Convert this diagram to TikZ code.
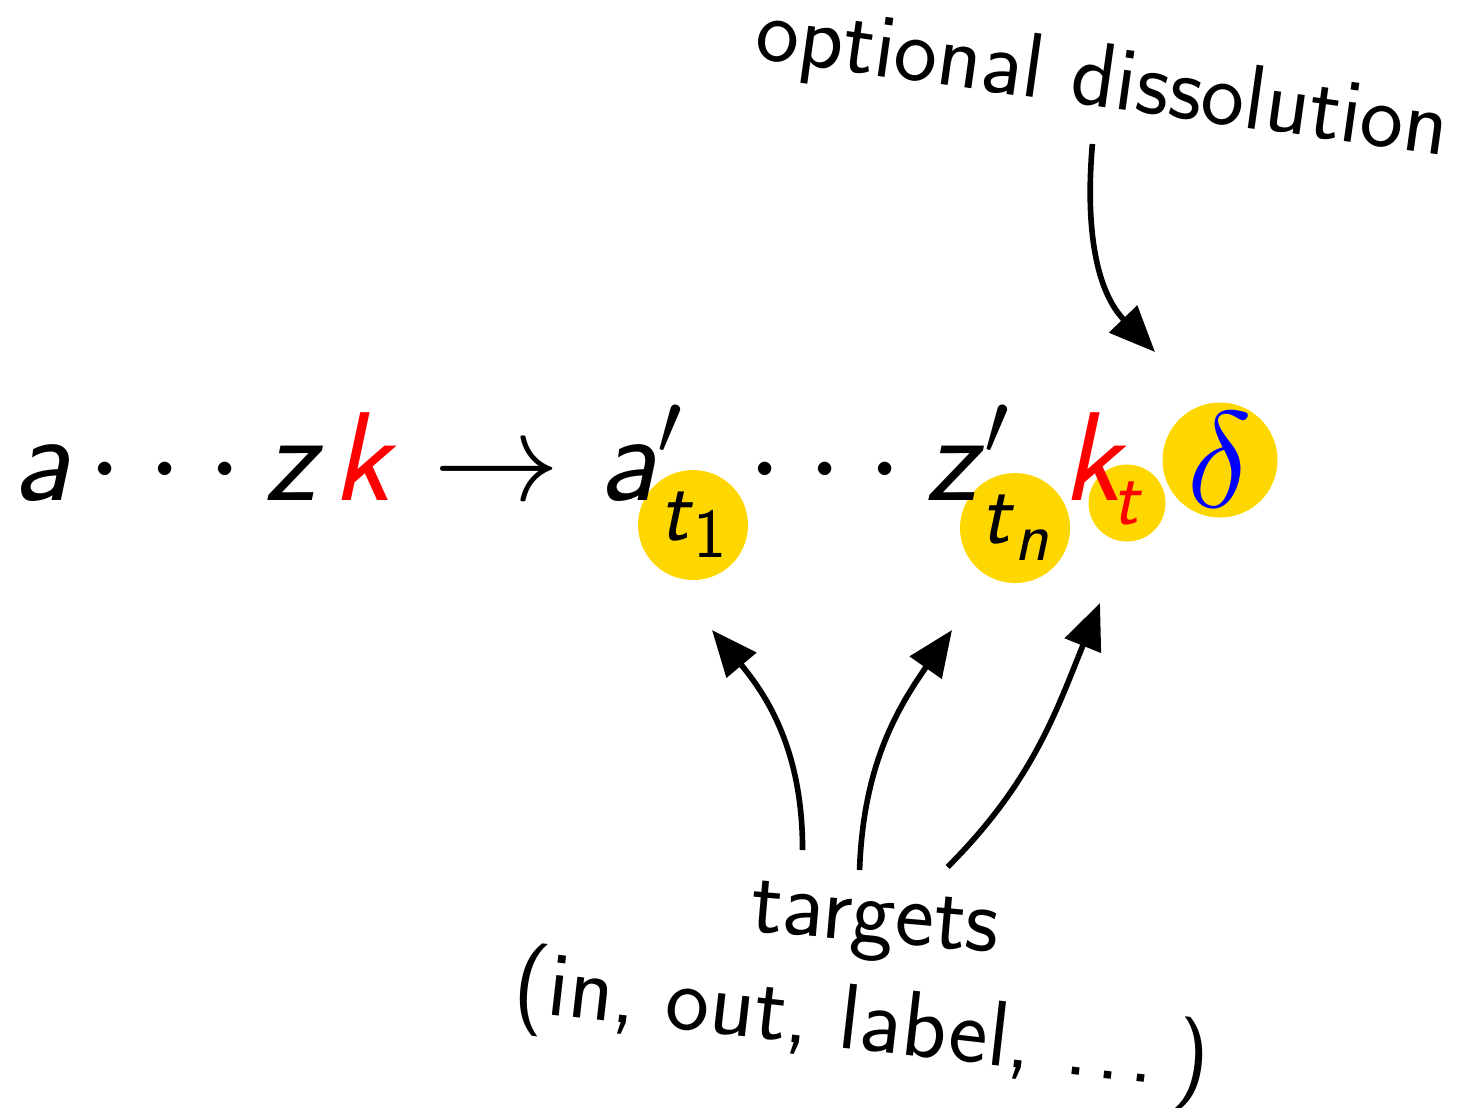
\RequirePackage{fix-cm}
\documentclass[tikz,border=0pt]{standalone}
\usepackage{amsmath}
\usetikzlibrary{arrows.meta}

\definecolor{hlgold}{RGB}{255,215,0}
\newcommand{\sv}[1]{\textsf{\textit{#1}}}
\newcommand{\dotrow}{\makebox[0.6cm]{$\cdot$}\makebox[0.6cm]{$\cdot$}\makebox[0.6cm]{$\cdot$}}
\newcommand{\lowdots}{\makebox[0.33cm]{.}\makebox[0.33cm]{.}\makebox[0.33cm]{.}}
\newcommand{\subsz}[1]{\raisebox{-0.17cm}{\fontsize{20}{24}\selectfont\textsf{#1}}}

\begin{document}
\begin{tikzpicture}[
    x=1cm,y=1cm,
    font=\fontsize{36}{43}\selectfont\sffamily,
    glyph/.style={inner sep=0pt, anchor=base west},
    midglyph/.style={inner sep=0pt, anchor=base},
    blob/.style={circle, fill=hlgold, inner sep=0pt, minimum size=#1},
    note/.style={font=\fontsize{26.5}{32}\selectfont\sffamily, inner sep=0pt, anchor=base},
    pointer/.style={
        draw=black,
        line width=1.6pt,
        -{Triangle[length=4.6mm,width=3.8mm]}
    },
]
\useasboundingbox (0,0) rectangle (14.64,-11.07);

% highlighted targets
\node[blob=1.1cm, font=\fontsize{25}{30}\selectfont\sffamily] (tone) at (6.93,-5.25) {\sv{t}\subsz{1}};
\node[blob=1.1cm, font=\fontsize{25}{30}\selectfont\sffamily] (tn) at (10.15,-5.28) {\sv{t}\subsz{\textit{n}}};
\node[blob=0.77cm, font=\fontsize{22}{26}\selectfont\sffamily, text=red] (tk) at (11.27,-5.03) {\sv{t}};
\node[blob=1.15cm, font=\fontsize{39}{46}\selectfont, text=blue] (dl) at (12.20,-4.60) {$\delta$};

% the rule
\node[glyph] (a) at (0.12,-5.00) {\sv{a}};
\node[midglyph] (ldots) at (1.65,-5.00) {\dotrow};
\node[glyph] (z) at (2.64,-5.00) {\sv{z}};
\node[glyph, text=red] (k) at (3.32,-5.00) {\sv{k}};
\node[midglyph] (to) at (4.97,-5.00) {$\to$};
\node[glyph] (ap) at (5.98,-5.00) {\sv{a}$'$};
\node[midglyph] (rdots) at (8.25,-5.00) {\dotrow};
\node[glyph] (zp) at (9.25,-5.00) {\sv{z}$'$};
\node[glyph, text=red] (kt) at (10.62,-5.00) {\sv{k}};

% labels
\node[note, rotate=-8, font=\fontsize{26.2}{32}\selectfont\sffamily] (optlab) at (10.99,-1.07) {optional dissolution};
\node[note, rotate=-5] (tgtlab) at (8.73,-9.42) {targets};
\node[note, rotate=-6.5] (kindlab) at (8.59,-10.50) {(in, out, label, \lowdots\,)};

% arrows
\draw[pointer] ([shift={(-0.04,-0.185)}]optlab.south) to[out=-95,in=134] ([shift={(-0.65,1.08)}]dl.center);
\draw[pointer] ([shift={(-0.75,0.40)}]tgtlab.north) to[out=90,in=-50] ([shift={(0.19,-1.05)}]tone.center);
\draw[pointer] ([shift={(-0.18,0.20)}]tgtlab.north) to[out=88,in=-125] ([shift={(-0.63,-1.02)}]tn.center);
\draw[pointer] ([shift={(0.70,0.23)}]tgtlab.north) to[out=45,in=-112] ([shift={(-0.27,-1.00)}]tk.center);
\end{tikzpicture}
\end{document}
